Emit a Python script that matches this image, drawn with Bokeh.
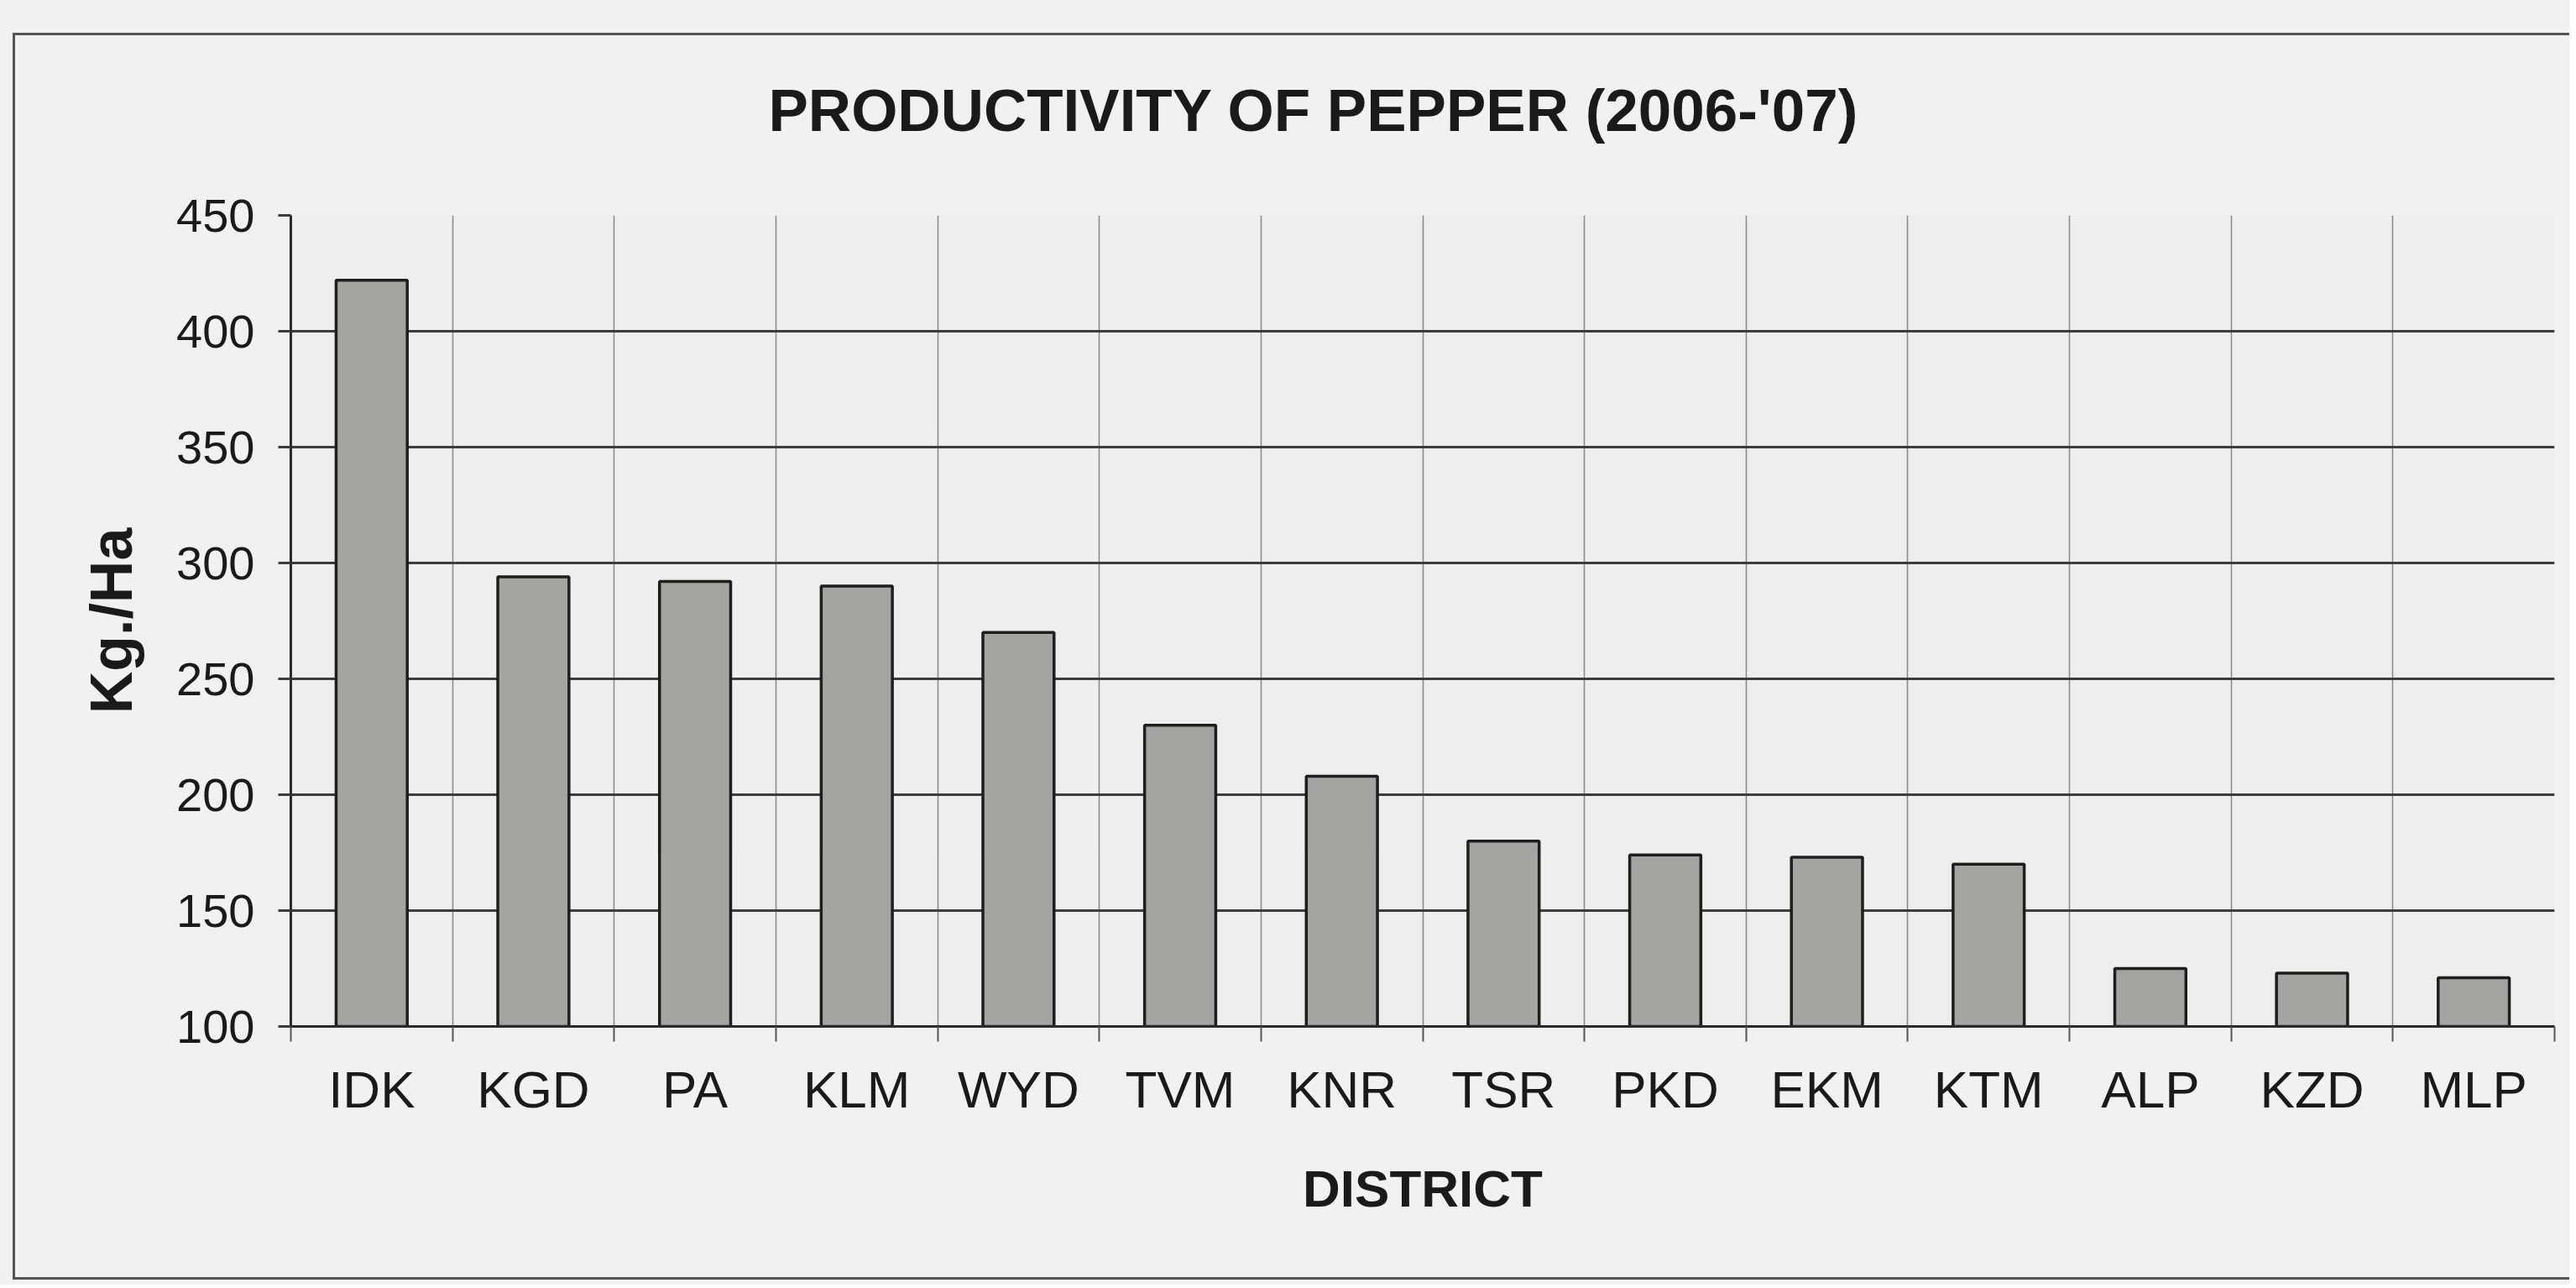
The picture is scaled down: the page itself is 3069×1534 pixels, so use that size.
from bokeh.plotting import figure
from bokeh.models import ColumnDataSource, Range1d, FixedTicker, Title
from bokeh.embed import file_html
from bokeh.resources import INLINE

# ---- data ----
districts = ["IDK", "KGD", "PA", "KLM", "WYD", "TVM", "KNR",
             "TSR", "PKD", "EKM", "KTM", "ALP", "KZD", "MLP"]
productivity = [422, 294, 292, 290, 270, 230, 208,
                180, 174, 173, 170, 125, 123, 121]
y_ticks = [100, 150, 200, 250, 300, 350, 400, 450]
title_text = "PRODUCTIVITY OF PEPPER (2006-'07)"
x_title = "DISTRICT"
y_title = "Kg./Ha"

n = len(districts)
centers = [i + 0.5 for i in range(n)]
bounds = list(range(n + 1))

src = ColumnDataSource(dict(x=centers, top=productivity, name=districts))

BG = "#f1f1f1"
LINE = "#555555"
W, H = 3061, 1530

p = figure(width=W, height=H, output_backend="svg", toolbar_location=None,
           x_range=Range1d(0, n), y_range=Range1d(y_ticks[0], y_ticks[-1]),
           min_border_left=346, min_border_right=18,
           min_border_top=256, min_border_bottom=308)

# scanned-page chart box (left, top and bottom rules) behind a transparent canvas
g = f"linear-gradient({LINE},{LINE})"
p.styles = {"background": (
    f"{g} 15px 39px / calc(100% - 15px) 3px no-repeat, "
    f"{g} 15px 39px / 3px 1485px no-repeat, "
    f"{g} 15px 1521px / calc(100% - 15px) 3px no-repeat, "
    f"{BG}")}
p.border_fill_color = None
p.border_fill_alpha = 0

p.title = None
p.add_layout(Title(text=title_text, align="left", offset=569,
                   text_font="Liberation Sans", text_font_size="71px",
                   text_font_style="bold", text_color="#1a1a1a",
                   standoff=172), "above")

p.background_fill_color = "#eeeeee"
p.outline_line_color = None

p.vbar(x="x", top="top", bottom=y_ticks[0], width=0.44, source=src,
       fill_color="#a4a4a0", line_color="#1e1e1e", line_width=3.5)

# grids
p.ygrid.ticker = FixedTicker(ticks=y_ticks)
p.ygrid.grid_line_color = "#3c3c3c"
p.ygrid.grid_line_width = 3
p.xgrid.ticker = FixedTicker(ticks=bounds)
p.xgrid.grid_line_color = "#8c8c8c"
p.xgrid.grid_line_width = 1.6

# y axis
ya = p.yaxis[0]
ya.ticker = FixedTicker(ticks=y_ticks)
ya.axis_line_color = "#2a2a2a"
ya.axis_line_width = 3
ya.major_tick_out = 15
ya.major_tick_in = 0
ya.major_tick_line_color = "#3c3c3c"
ya.major_tick_line_width = 3
ya.minor_tick_line_color = None
ya.major_label_standoff = 28
ya.major_label_text_font = "Liberation Sans"
ya.major_label_text_font_size = "56px"
ya.major_label_text_color = "#1a1a1a"
ya.axis_label = y_title
ya.axis_label_text_font = "Liberation Sans"
ya.axis_label_text_font_size = "70px"
ya.axis_label_text_font_style = "bold"
ya.axis_label_text_color = "#1a1a1a"
ya.axis_label_standoff = 35

# x axis
xa = p.xaxis[0]
xa.ticker = FixedTicker(ticks=centers, minor_ticks=bounds)
xa.major_label_overrides = {c: d for c, d in zip(centers, districts)}
xa.axis_line_color = "#2a2a2a"
xa.axis_line_width = 3
xa.major_tick_out = 0
xa.major_tick_in = 0
xa.major_tick_line_color = None
xa.minor_tick_out = 18
xa.minor_tick_in = 0
xa.minor_tick_line_color = "#555555"
xa.minor_tick_line_width = 2
xa.major_label_standoff = 22
xa.major_label_text_font = "Liberation Sans"
xa.major_label_text_font_size = "62px"
xa.major_label_text_color = "#1a1a1a"
xa.axis_label = x_title
xa.axis_label_text_font = "Liberation Sans"
xa.axis_label_text_font_size = "62px"
xa.axis_label_text_font_style = "bold"
xa.axis_label_text_color = "#1a1a1a"
xa.axis_label_standoff = 46

open("out.html", "w").write(file_html(p, INLINE))
